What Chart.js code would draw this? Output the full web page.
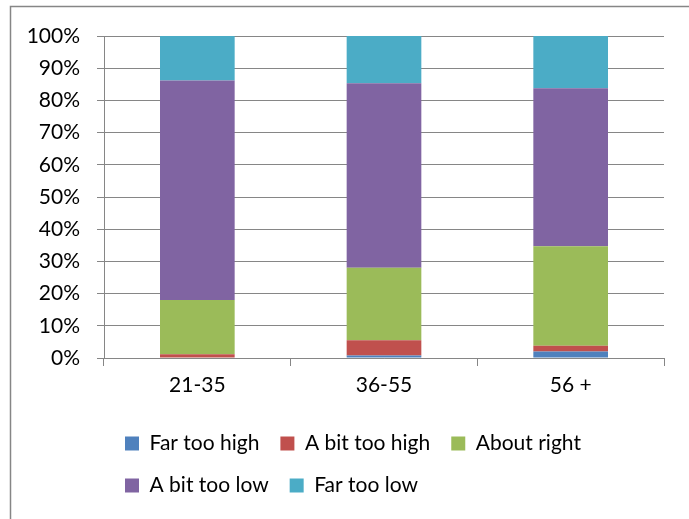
<!DOCTYPE html>
<html>
<head>
<meta charset="utf-8">
<script src="https://cdn.jsdelivr.net/npm/chart.js@4/dist/chart.umd.min.js"></script>
<style>
  html, body { margin: 0; padding: 0; background: #fff; }
  #wrap { width: 689px; height: 519px; position: relative; }
</style>
</head>
<body>
<div id="wrap"><canvas id="c" width="689" height="519"></canvas></div>
<script>
// Age groups and answer shares (percent of respondents)
const ageGroups = ['21-35', '36-55', '56 +'];
const farTooHigh = [0, 0.8, 2.0];
const aBitTooHigh = [1.2, 4.7, 1.8];
const aboutRight = [16.8, 22.5, 30.9];
const aBitTooLow = [68.2, 57.3, 49.1];
const farTooLow = [13.8, 14.7, 16.2];
const yTicks = [0, 10, 20, 30, 40, 50, 60, 70, 80, 90, 100];

const seriesNames = ['Far too high', 'A bit too high', 'About right', 'A bit too low', 'Far too low'];
const seriesValues = [farTooHigh, aBitTooHigh, aboutRight, aBitTooLow, farTooLow];
const seriesColors = ['#4F81BD', '#C0504D', '#9BBB59', '#8064A2', '#4BACC6'];

const lineGray = '#868686';
const font = { family: 'Lato, "Open Sans", sans-serif', size: 21 };

// White page with the frame that surrounds the chart
const framePlugin = {
  id: 'frame',
  beforeDraw(chart) {
    const ctx = chart.ctx;
    ctx.save();
    ctx.fillStyle = '#fff';
    ctx.fillRect(0, 0, chart.width, chart.height);
    ctx.strokeStyle = lineGray;
    ctx.lineWidth = 1.5;
    ctx.beginPath();
    ctx.moveTo(10.5, chart.height + 5);
    ctx.lineTo(10.5, 6.5);
    ctx.lineTo(chart.width + 5, 6.5);
    ctx.stroke();
    ctx.restore();
  }
};

new Chart(document.getElementById('c'), {
  type: 'bar',
  data: {
    labels: ageGroups,
    datasets: seriesNames.map((name, i) => ({
      label: name,
      data: seriesValues[i],
      backgroundColor: seriesColors[i],
      borderWidth: 0,
      barPercentage: 0.4,
      categoryPercentage: 1
    }))
  },
  options: {
    responsive: false,
    animation: false,
    devicePixelRatio: 1,
    layout: { padding: { top: 36, right: 25, bottom: 13, left: 0 } },
    plugins: {
      tooltip: { enabled: false },
      legend: {
        position: 'bottom',
        align: 'start',
        fullSize: false,
        labels: {
          font: font,
          color: '#000',
          boxWidth: 14,
          boxHeight: 14,
          padding: 21
        }
      }
    },
    scales: {
      x: {
        stacked: true,
        offset: true,
        grid: {
          offset: true,
          drawOnChartArea: false,
          drawTicks: true,
          tickLength: 8,
          color: lineGray
        },
        border: { color: lineGray, width: 1 },
        ticks: { font: font, color: '#000', padding: 7 },
        afterFit(scale) { scale.height = 54; }
      },
      y: {
        stacked: true,
        min: 0,
        max: 100,
        afterBuildTicks(scale) { scale.ticks = yTicks.map(v => ({ value: v })); },
        grid: { color: lineGray, tickLength: 7, lineWidth: 1 },
        border: { color: lineGray, width: 1 },
        ticks: {
          font: font,
          color: '#000',
          padding: 17,
          callback: v => v + '%'
        },
        afterFit(scale) { scale.width = 104; }
      }
    }
  },
  plugins: [framePlugin]
});
</script>
</body>
</html>
